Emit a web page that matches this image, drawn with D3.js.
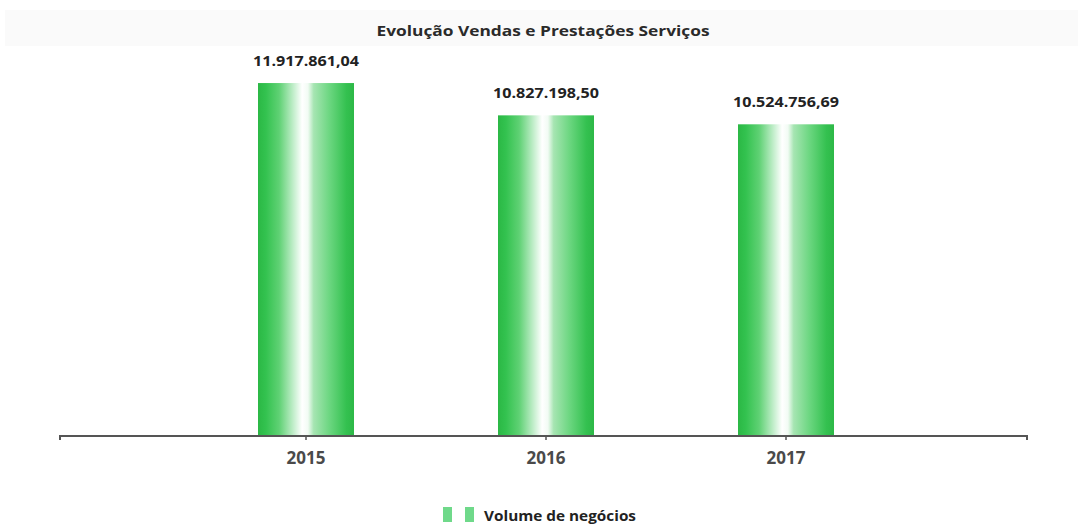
<!DOCTYPE html>
<html><head><meta charset="utf-8">
<script src="https://cdn.jsdelivr.net/npm/d3@7"></script>
<style>html,body{margin:0;padding:0;background:#fff;}svg{display:block;}</style>
</head><body>
<svg id="chart" width="1083" height="529"></svg>
<script>
const title = "Evolução Vendas e Prestações Serviços";
const categories = ["2015", "2016", "2017"];
const values = [11917861.04, 10827198.50, 10524756.69];
const valueLabels = ["11.917.861,04", "10.827.198,50", "10.524.756,69"];
const seriesName = "Volume de negócios";

const svg = d3.select("#chart");
const font = "'Open Sans', 'DejaVu Sans', sans-serif";

// faint scanned band behind title
svg.append("rect").attr("x", 5).attr("y", 10).attr("width", 1073).attr("height", 36).attr("fill", "#fafafa");

const defs = svg.append("defs");
const g = defs.append("linearGradient").attr("id", "barGrad").attr("x1", "0%").attr("x2", "100%").attr("y1", "0%").attr("y2", "0%");
[["0%", "#2bb845"], ["8%", "#33c24f"], ["22%", "#5fd174"], ["38%", "#c9f0d1"], ["46%", "#ffffff"], ["52%", "#f2fbf4"], ["58%", "#a6e5b2"], ["75%", "#6ad67f"], ["92%", "#34c150"], ["100%", "#2db847"]]
  .forEach(([o, c]) => g.append("stop").attr("offset", o).attr("stop-color", c));

const x = d3.scaleBand().domain(categories).range([186, 906]).paddingInner(0.6).paddingOuter(0.3);
const y = d3.scaleLinear().domain([0, 13000000]).range([436, 51]);

svg.append("text").attr("x", 543).attr("y", 36).attr("text-anchor", "middle")
  .attr("font-family", font).attr("font-weight", "bold").attr("font-size", 15)
  .attr("fill", "#2a2a2a").attr("textLength", 333).attr("lengthAdjust", "spacingAndGlyphs").text(title);

svg.selectAll("rect.bar").data(values).enter().append("rect").attr("class", "bar")
  .attr("x", (d, i) => x(categories[i])).attr("width", x.bandwidth())
  .attr("y", d => y(d)).attr("height", d => y(0) - y(d)).attr("fill", "url(#barGrad)");

svg.selectAll("text.val").data(values).enter().append("text").attr("class", "val")
  .attr("x", (d, i) => x(categories[i]) + x.bandwidth() / 2).attr("y", d => y(d) - 17)
  .attr("text-anchor", "middle").attr("font-family", font).attr("font-weight", "bold")
  .attr("font-size", 14).attr("fill", "#222").attr("textLength", 106).attr("lengthAdjust", "spacingAndGlyphs")
  .text((d, i) => valueLabels[i]);

// axis
const axis = d3.axisBottom(x).tickSize(4).tickPadding(12);
const ag = svg.append("g").attr("transform", "translate(0,436)").call(axis);
ag.select(".domain").remove();
ag.selectAll(".tick line").attr("stroke", "#555").attr("stroke-width", 1.5);
ag.selectAll(".tick text").attr("font-family", font).attr("font-weight", "bold").attr("font-size", 17).attr("fill", "#4a4a4a");
svg.append("path").attr("d", "M60,440V436H1027V440").attr("fill", "none").attr("stroke", "#555").attr("stroke-width", 2);

// legend
const lg = svg.append("g");
[443, 465].forEach(lx => lg.append("rect").attr("x", lx).attr("y", 507).attr("width", 9).attr("height", 15).attr("fill", "#6fd98a"));
lg.append("text").attr("x", 484).attr("y", 521).attr("font-family", font).attr("font-weight", "bold")
  .attr("font-size", 15).attr("fill", "#222").attr("textLength", 152).attr("lengthAdjust", "spacingAndGlyphs").text(seriesName);
</script>
</body></html>
